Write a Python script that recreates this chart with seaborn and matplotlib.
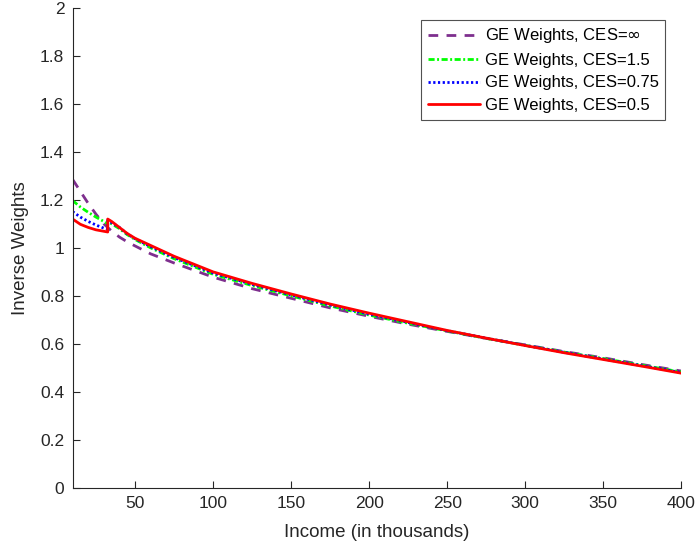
import matplotlib
matplotlib.use("Agg")
import matplotlib.pyplot as plt
import seaborn as sns
import pandas as pd

# ---- data ----
income = [10, 15, 20, 25, 30, 32.5, 32.5, 35, 40, 45, 50, 60, 75, 100, 125,
          150, 175, 200, 225, 250, 275, 300, 325, 350, 375, 400]

w_inf = [1.285, 1.235, 1.185, 1.14, 1.10, 1.085, 1.085, 1.07, 1.045, 1.025,
         1.008, 0.975, 0.937, 0.878, 0.83, 0.79, 0.75, 0.715, 0.682, 0.652,
         0.623, 0.596, 0.568, 0.542, 0.514, 0.487]
w_15 = [1.197, 1.17, 1.148, 1.128, 1.11, 1.10, 1.11, 1.10, 1.08, 1.055,
        1.035, 1.0, 0.955, 0.89, 0.843, 0.80, 0.758, 0.72, 0.686, 0.654,
        0.623, 0.594, 0.566, 0.539, 0.511, 0.483]
w_075 = [1.151, 1.128, 1.11, 1.095, 1.082, 1.077, 1.115, 1.105, 1.085, 1.058,
         1.038, 1.005, 0.96, 0.895, 0.848, 0.804, 0.762, 0.724, 0.689, 0.655,
         0.624, 0.594, 0.565, 0.537, 0.509, 0.481]
w_05 = [1.12, 1.098, 1.085, 1.075, 1.069, 1.066, 1.12, 1.11, 1.085, 1.06,
        1.04, 1.01, 0.965, 0.90, 0.852, 0.808, 0.766, 0.728, 0.692, 0.656,
        0.624, 0.593, 0.563, 0.535, 0.507, 0.478]

labels = ["GE Weights, CES=$\\infty$", "GE Weights, CES=1.5",
          "GE Weights, CES=0.75", "GE Weights, CES=0.5"]
series = [w_inf, w_15, w_075, w_05]
colors = ["#7E2F8E", "#00FF00", "#0000FF", "#FF0000"]
dashes = [(0, (3.5, 3.0)), (0, (2.2, 0.9, 0.7, 0.9)), (0, (0.8, 0.9)), "-"]
widths = [2.0, 2.0, 2.0, 2.0]

sns.set_theme(style="white")
plt.rcParams["font.family"] = ["Liberation Sans", "DejaVu Sans"]
plt.rcParams["mathtext.fontset"] = "dejavusans"
textc = "#262626"

fig = plt.figure(figsize=(6.98, 5.52), dpi=100)
ax = fig.add_axes([0.104, 0.116, 0.872, 0.870])

for lab, ys, c, ls, lw in zip(labels, series, colors, dashes, widths):
    df = pd.DataFrame({"x": income, "y": ys})
    sns.lineplot(data=df, x="x", y="y", ax=ax, estimator=None, sort=False,
                 color=c, linestyle=ls, linewidth=lw, label=lab)

ax.set_xlim(10, 400)
ax.set_ylim(0, 2)
ax.set_xticks([50, 100, 150, 200, 250, 300, 350, 400])
ax.set_yticks([0, 0.2, 0.4, 0.6, 0.8, 1.0, 1.2, 1.4, 1.6, 1.8, 2.0])
ax.set_yticklabels(["0", "0.2", "0.4", "0.6", "0.8", "1", "1.2", "1.4", "1.6", "1.8", "2"])
ax.set_xlabel("Income (in thousands)", fontsize=13.5, color=textc, labelpad=9)
ax.set_ylabel("Inverse Weights", fontsize=13.5, color=textc, labelpad=8)
ax.tick_params(axis="both", direction="in", length=5, width=0.8, colors=textc,
               labelsize=12.5, pad=6, bottom=True, left=True)
for s in ["top", "right"]:
    ax.spines[s].set_visible(False)
for s in ["left", "bottom"]:
    ax.spines[s].set_color(textc)
    ax.spines[s].set_linewidth(0.8)

leg = ax.legend(loc="upper right", bbox_to_anchor=(0.974, 0.975), borderaxespad=0,
                fontsize=12, frameon=True, fancybox=False, edgecolor="#262626",
                handlelength=3.1, labelspacing=0.45, handletextpad=0.3,
                borderpad=0.4)
leg.get_frame().set_linewidth(0.8)
for t in leg.get_texts():
    t.set_color("black")

fig.savefig("out.png", dpi=100)
